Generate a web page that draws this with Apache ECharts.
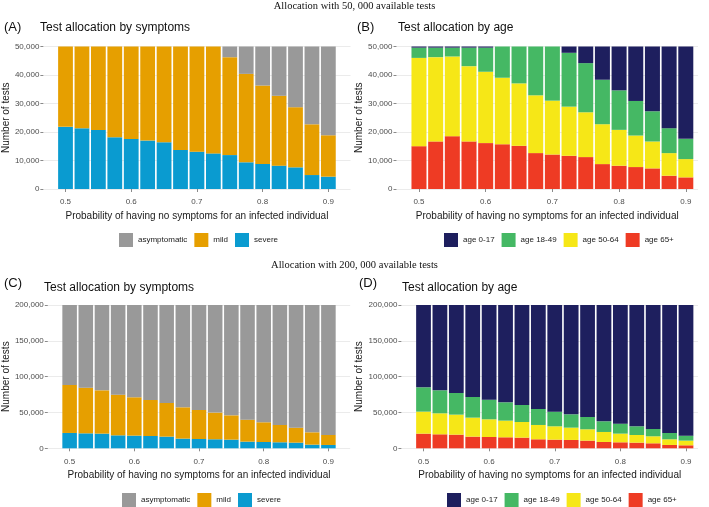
<!DOCTYPE html>
<html>
<head>
<meta charset="utf-8">
<script src="https://cdn.jsdelivr.net/npm/echarts@6/dist/echarts.min.js"></script>
<style>
html,body{margin:0;padding:0;background:#fff;}
#c{width:709px;height:507px;}
</style>
</head>
<body>
<div id="c"></div>
<script>
// Probability of having no symptoms (bar positions)
const probs = [0.5,0.525,0.55,0.575,0.6,0.625,0.65,0.675,0.7,0.725,0.75,0.775,0.8,0.825,0.85,0.875,0.9];
const xTickValues = [0.5,0.6,0.7,0.8,0.9];

// Panel A: 50,000 tests, by symptoms
const aSevere = [21800,21300,20700,18150,17560,17000,16400,13700,13100,12500,11900,9370,8800,8200,7600,4900,4330];
const aMild   = [28200,28700,29300,31850,32440,33000,33600,36300,36900,37500,34350,31030,27500,24500,21100,17800,14520];
const aAsym   = [0,0,0,0,0,0,0,0,0,0,3750,9600,13700,17300,21300,27300,31150];

// Panel B: 50,000 tests, by age
const b65   = [15030,16700,18530,16700,16100,15700,15150,12600,12100,11650,11200,8740,8160,7700,7230,4660,4080];
const b5064 = [30970,29570,27970,26400,25040,23340,21910,20270,18900,17250,15720,13990,12590,11060,9440,7930,6410];
const b1849 = [3600,3330,3100,6500,8460,10960,12940,17130,19000,18890,17250,15610,13870,12130,10600,8740,7110];
const b017  = [400,400,400,400,400,0,0,0,0,2210,5830,11660,15380,19110,22730,28670,32400];

// Panel C: 200,000 tests, by symptoms
const cSevere = [21400,20900,20500,18100,17700,17200,16300,13500,13000,12600,12100,9300,8800,8400,7900,5100,4650];
const cMild   = [67000,63750,60400,56800,53500,50200,47000,43700,40500,37200,33900,30700,27500,24200,20900,17200,13950];
const cAsym   = [111600,115350,119100,125100,128800,132600,136700,142800,146500,150200,154000,160000,163700,167400,171200,177700,181400];

// Panel D: 200,000 tests, by age
const d65   = [20470,19530,19070,16280,15800,15350,14900,12560,12090,11630,10700,8840,8370,7900,6980,4650,4190];
const d5064 = [30690,29310,27910,26520,24670,23250,21840,20000,18610,17210,15810,13950,12100,10700,9760,7910,6510];
const d1849 = [33960,32090,30220,28830,27430,25590,23730,22320,20460,18600,17210,14880,13950,12100,10240,8840,6970];
const d017  = [114880,119070,122800,128370,132100,135810,139530,145120,148840,152560,156280,162330,165580,169300,173020,178600,182330];

const headerTexts = ['Allocation with 50, 000 available tests','Allocation with 200, 000 available tests'];
const panelLetters = ['(A)','(B)','(C)','(D)'];
const panelTitles = ['Test allocation by symptoms','Test allocation by age','Test allocation by symptoms','Test allocation by age'];
const symptomNames = ['asymptomatic','mild','severe'];
const ageNames = ['age 0-17','age 18-49','age 50-64','age 65+'];
const xTitle = 'Probability of having no symptoms for an infected individual';
const yTitle = 'Number of tests';

const COL = {
  'asymptomatic':'#999999','mild':'#E69F00','severe':'#0A9BD0',
  'age 0-17':'#1E1F5E','age 18-49':'#45B864','age 50-64':'#F6E717','age 65+':'#EE3B24'
};

const SANS = 'Liberation Sans, Arial, sans-serif';
const SERIF = 'Liberation Serif, Times New Roman, serif';

const grids = [
  {left:39, top:46.5, width:311.5, height:142.5},
  {left:396.5, top:46.5, width:301.5, height:142.5},
  {left:43.4, top:305, width:306.8, height:143.3},
  {left:401.4, top:305, width:296.6, height:143.3}
];
const xMax = [0.9337, 0.9183, 0.9337, 0.9183];
const yMax = [50000, 50000, 200000, 200000];
const yInt = [10000, 10000, 50000, 50000];
const yNameGap = [30, 30, 34, 35];

const xAxes = grids.map((g,i)=>({
  type:'value', gridIndex:i, min:0.4663, max:xMax[i], offset:3,
  axisLine:{show:false},
  splitLine:{show:false},
  axisTick:{show:true, customValues:xTickValues, length:3, lineStyle:{color:'#8a8a8a'}},
  axisLabel:{customValues:xTickValues, color:'#4D4D4D', fontSize:8, fontFamily:SANS, margin:6,
    formatter:v=>String(v)},
  name:xTitle, nameLocation:'middle', nameGap:19,
  nameTextStyle:{color:'#1A1A1A', fontSize:10, fontFamily:SANS}
}));
const yAxes = grids.map((g,i)=>({
  type:'value', gridIndex:i, min:0, max:yMax[i], interval:yInt[i],
  axisLine:{show:false},
  splitLine:{show:true, lineStyle:{color:'#EBEBEB', width:1}},
  axisTick:{show:true, length:3, lineStyle:{color:'#8a8a8a'}},
  axisLabel:{color:'#4D4D4D', fontSize:8, fontFamily:SANS, margin:4,
    formatter:v=>v.toLocaleString('en-US')},
  name:yTitle, nameLocation:'middle', nameGap:yNameGap[i],
  nameTextStyle:{color:'#1A1A1A', fontSize:10, fontFamily:SANS}
}));

function mk(name, vals, idx){
  return {
    name:name, type:'bar', stack:'s'+idx, xAxisIndex:idx, yAxisIndex:idx,
    encode:{x:1, y:0},
    barWidth:'90%', itemStyle:{color:COL[name]},
    data: probs.map((p,k)=>[vals[k], p])
  };
}
const series = [
  mk('severe', aSevere, 0), mk('mild', aMild, 0), mk('asymptomatic', aAsym, 0),
  mk('age 65+', b65, 1), mk('age 50-64', b5064, 1), mk('age 18-49', b1849, 1), mk('age 0-17', b017, 1),
  mk('severe', cSevere, 2), mk('mild', cMild, 2), mk('asymptomatic', cAsym, 2),
  mk('age 65+', d65, 3), mk('age 50-64', d5064, 3), mk('age 18-49', d1849, 3), mk('age 0-17', d017, 3)
];

const titles = [
  {text:headerTexts[0], left:'center', top:1, textStyle:{fontFamily:SERIF, fontSize:10.5, fontWeight:'normal', color:'#111'}},
  {text:headerTexts[1], left:'center', top:260, textStyle:{fontFamily:SERIF, fontSize:10.5, fontWeight:'normal', color:'#111'}},
  {text:panelLetters[0], left:4, top:21, textStyle:{fontFamily:SANS, fontSize:13, fontWeight:'normal', color:'#111'}},
  {text:panelLetters[1], left:357, top:21, textStyle:{fontFamily:SANS, fontSize:13, fontWeight:'normal', color:'#111'}},
  {text:panelLetters[2], left:4, top:277, textStyle:{fontFamily:SANS, fontSize:13, fontWeight:'normal', color:'#111'}},
  {text:panelLetters[3], left:359, top:277, textStyle:{fontFamily:SANS, fontSize:13, fontWeight:'normal', color:'#111'}},
  {text:panelTitles[0], left:40, top:22, textStyle:{fontFamily:SANS, fontSize:12, fontWeight:'normal', color:'#111'}},
  {text:panelTitles[1], left:398, top:22, textStyle:{fontFamily:SANS, fontSize:12, fontWeight:'normal', color:'#111'}},
  {text:panelTitles[2], left:44, top:282, textStyle:{fontFamily:SANS, fontSize:12, fontWeight:'normal', color:'#111'}},
  {text:panelTitles[3], left:402, top:282, textStyle:{fontFamily:SANS, fontSize:12, fontWeight:'normal', color:'#111'}}
].map(t=>Object.assign({padding:0}, t));

function legend(names, left, top){
  return {data:names, left:left, top:top, orient:'horizontal', itemWidth:14, itemHeight:14, itemGap:7,
    padding:0, icon:'rect', selectedMode:false,
    textStyle:{fontFamily:SANS, fontSize:8, color:'#1A1A1A'}};
}

const chart = echarts.init(document.getElementById('c'), null, {renderer:'canvas'});
chart.setOption({
  animation:false,
  backgroundColor:'#ffffff',
  title:titles,
  grid:grids,
  xAxis:xAxes,
  yAxis:yAxes,
  legend:[legend(symptomNames,119,233), legend(ageNames,444,233), legend(symptomNames,122,493), legend(ageNames,447,493)],
  series:series
});
</script>
</body>
</html>
